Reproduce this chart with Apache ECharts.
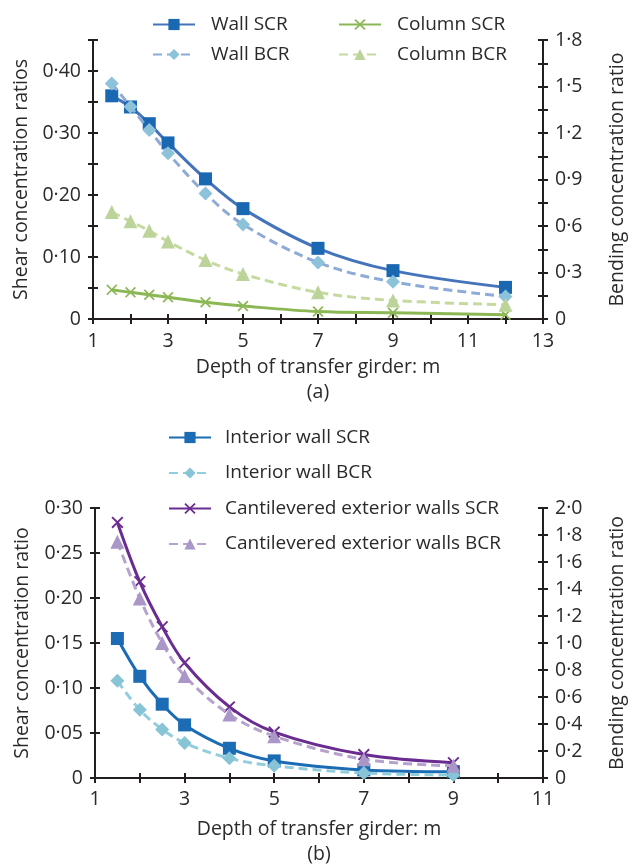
<!DOCTYPE html>
<html>
<head>
<meta charset="utf-8">
<script src="https://cdn.jsdelivr.net/npm/echarts@6/dist/echarts.min.js"></script>
<style>
html,body{margin:0;padding:0;background:#fff;}
#chart{width:635px;height:868px;}
</style>
</head>
<body>
<div id="chart"></div>
<script>
// ---- Data: chart (a) ----
const depthA = [1.5, 2, 2.5, 3, 4, 5, 7, 9, 12];
const wallSCR = [0.360, 0.342, 0.315, 0.284, 0.226, 0.178, 0.114, 0.078, 0.051];
const wallBCR = [1.52, 1.37, 1.22, 1.07, 0.81, 0.61, 0.365, 0.24, 0.145];
const columnSCR = [0.047, 0.043, 0.039, 0.035, 0.027, 0.021, 0.012, 0.010, 0.007];
const columnBCR = [0.69, 0.63, 0.57, 0.50, 0.38, 0.29, 0.172, 0.12, 0.092];

// ---- Data: chart (b) ----
const depthB = [1.5, 2, 2.5, 3, 4, 5, 7, 9];
const interiorSCR = [0.155, 0.113, 0.082, 0.059, 0.033, 0.019, 0.009, 0.007];
const interiorBCR = [0.72, 0.505, 0.36, 0.26, 0.146, 0.09, 0.037, 0.022];
const cantSCR = [0.284, 0.218, 0.168, 0.128, 0.079, 0.051, 0.026, 0.017];
const cantBCR = [1.75, 1.33, 1.00, 0.756, 0.471, 0.31, 0.139, 0.09];

// ---- Tick labels ----
const xLabelsA = ['1', '3', '5', '7', '9', '11', '13'];
const xLabelsB = ['1', '3', '5', '7', '9', '11'];
const shearLabelsA = {0: '0', 10: '0·10', 20: '0·20', 30: '0·30', 40: '0·40'};
const bendLabelsA = {0: '0', 30: '0·3', 60: '0·6', 90: '0·9', 120: '1·2', 150: '1·5', 180: '1·8'};
const shearLabelsB = {0: '0', 5: '0·05', 10: '0·10', 15: '0·15', 20: '0·20', 25: '0·25', 30: '0·30'};
const bendLabelsB = {0: '0', 20: '0·2', 40: '0·4', 60: '0·6', 80: '0·8', 100: '1·0', 120: '1·2', 140: '1·4', 160: '1·6', 180: '1·8', 200: '2·0'};

const FONT = 'Open Sans';
const FS = 19.5;
const LFS = 19;
const TXT = '#2a2a2a';
const AX = '#231f20';

const zip = (xs, ys) => xs.map((x, i) => [x, ys[i]]);
const xFmt = labels => v => labels.indexOf(String(Math.round(v))) >= 0 && Math.abs(v - Math.round(v)) < 1e-6 ? String(Math.round(v)) : '';
const yFmt = map => v => { const r = Math.round(v * 100); return map[r] !== undefined ? map[r] : ''; };

const CROSS = 'path://M0,1.1L1.1,0L5,3.9L8.9,0L10,1.1L6.1,5L10,8.9L8.9,10L5,6.1L1.1,10L0,8.9L3.9,5Z';

function mainAxis(extra) {
  return Object.assign({
    type: 'value',
    axisLine: {show: true, onZero: false, lineStyle: {color: AX, width: 2}},
    axisTick: {show: true, inside: false, length: 5, lineStyle: {color: AX, width: 2}},
    splitLine: {show: false},
    axisLabel: {color: TXT, fontFamily: FONT, fontSize: FS, margin: 12},
    nameTextStyle: {color: TXT, fontFamily: FONT, fontSize: FS},
    nameLocation: 'middle'
  }, extra);
}
function overlayAxis(extra) {
  return Object.assign({
    type: 'value',
    axisLine: {show: false, onZero: false},
    axisTick: {show: true, inside: true, length: 5, lineStyle: {color: AX, width: 2}},
    splitLine: {show: false},
    axisLabel: {show: false}
  }, extra);
}

function line(name, xs, ys, xi, yi, lineColor, symColor, symbol, size, dashed) {
  return {
    name: name, type: 'line', xAxisIndex: xi, yAxisIndex: yi,
    data: zip(xs, ys), smooth: 0.35,
    symbol: symbol, symbolSize: size, showSymbol: true,
    lineStyle: {color: lineColor, width: 3, type: dashed ? [9, 5] : 'solid'},
    itemStyle: {color: symColor, borderColor: symColor, borderWidth: 0},
    emphasis: {disabled: true},
    z: dashed ? 3 : 2
  };
}

const legendBase = {
  orient: 'vertical', itemWidth: 42, itemHeight: 14,
  textStyle: {color: TXT, fontFamily: FONT, fontSize: LFS, padding: [0, 0, 0, 11]},
  selectedMode: false
};

const option = {
  animation: false,
  backgroundColor: '#fff',
  grid: [
    {left: 93, top: 40, width: 470, height: 279},
    {left: 95, top: 508, width: 467, height: 274}
  ],
  legend: [
    Object.assign({}, legendBase, {left: 147, top: 10, itemGap: 11, data: ['Wall SCR', 'Wall BCR']}),
    Object.assign({}, legendBase, {left: 333, top: 10, itemGap: 11, data: ['Column SCR', 'Column BCR']}),
    Object.assign({}, legendBase, {left: 163, top: 423, itemGap: 16.5,
      textStyle: {color: TXT, fontFamily: FONT, fontSize: LFS, padding: [0, 0, 0, 9]},
      data: ['Interior wall SCR', 'Interior wall BCR', 'Cantilevered exterior walls SCR', 'Cantilevered exterior walls BCR']})
  ],
  xAxis: [
    mainAxis({gridIndex: 0, min: 1, max: 13, interval: 1, position: 'bottom',
      axisLabel: {color: TXT, fontFamily: FONT, fontSize: FS, margin: 12, formatter: xFmt(xLabelsA)},
      name: 'Depth of transfer girder: m\n(a)', nameGap: 36,
      nameTextStyle: {color: TXT, fontFamily: FONT, fontSize: FS, lineHeight: 25}}),
    overlayAxis({gridIndex: 0, min: 1, max: 13, interval: 1, position: 'bottom'}),
    mainAxis({gridIndex: 1, min: 1, max: 11, interval: 1, position: 'bottom',
      axisLabel: {color: TXT, fontFamily: FONT, fontSize: FS, margin: 11, formatter: xFmt(xLabelsB)},
      name: 'Depth of transfer girder: m\n(b)', nameGap: 39,
      nameTextStyle: {color: TXT, fontFamily: FONT, fontSize: FS, lineHeight: 25}}),
    overlayAxis({gridIndex: 1, min: 1, max: 11, interval: 1, position: 'bottom'})
  ],
  yAxis: [
    mainAxis({gridIndex: 0, min: 0, max: 0.45, interval: 0.05, position: 'left',
      axisLabel: {color: TXT, fontFamily: FONT, fontSize: FS, margin: 12, formatter: yFmt(shearLabelsA)},
      name: 'Shear concentration ratios', nameRotate: 90, nameGap: 62}),
    mainAxis({gridIndex: 0, min: 0, max: 1.8, interval: 0.15, position: 'right',
      axisLabel: {color: TXT, fontFamily: FONT, fontSize: FS, margin: 12, formatter: yFmt(bendLabelsA)},
      name: 'Bending concentration ratio', nameRotate: 90, nameGap: 64}),
    overlayAxis({gridIndex: 0, min: 0, max: 0.45, interval: 0.05, position: 'left'}),
    overlayAxis({gridIndex: 0, min: 0, max: 1.8, interval: 0.15, position: 'right'}),
    mainAxis({gridIndex: 1, min: 0, max: 0.30, interval: 0.05, position: 'left',
      axisLabel: {color: TXT, fontFamily: FONT, fontSize: FS, margin: 12, formatter: yFmt(shearLabelsB)},
      name: 'Shear concentration ratio', nameRotate: 90, nameGap: 63}),
    mainAxis({gridIndex: 1, min: 0, max: 2.0, interval: 0.2, position: 'right',
      axisLabel: {color: TXT, fontFamily: FONT, fontSize: FS, margin: 12, formatter: yFmt(bendLabelsB)},
      name: 'Bending concentration ratio', nameRotate: 90, nameGap: 64}),
    overlayAxis({gridIndex: 1, min: 0, max: 0.30, interval: 0.05, position: 'left'}),
    overlayAxis({gridIndex: 1, min: 0, max: 2.0, interval: 0.2, position: 'right'})
  ],
  series: [
    line('Wall SCR', depthA, wallSCR, 0, 0, '#4574ba', '#1a67b2', 'rect', 13, false),
    line('Wall BCR', depthA, wallBCR, 0, 1, '#8eaad6', '#8cc3db', 'diamond', 14, true),
    line('Column SCR', depthA, columnSCR, 0, 0, '#8cb755', '#8cb755', CROSS, 11, false),
    line('Column BCR', depthA, columnBCR, 0, 1, '#c6da9f', '#bcd49a', 'triangle', 14, true),
    line('Interior wall SCR', depthB, interiorSCR, 2, 4, '#1b6cb4', '#1b6cb4', 'rect', 13, false),
    line('Interior wall BCR', depthB, interiorBCR, 2, 5, '#92cddd', '#86c4d6', 'diamond', 14, true),
    line('Cantilevered exterior walls SCR', depthB, cantSCR, 2, 4, '#6a2c90', '#6a2c90', CROSS, 12, false),
    line('Cantilevered exterior walls BCR', depthB, cantBCR, 2, 5, '#b5a2cd', '#aa97c7', 'triangle', 14, true)
  ]
};

const chart = echarts.init(document.getElementById('chart'), null, {renderer: 'canvas'});
chart.setOption(option);
</script>
</body>
</html>
